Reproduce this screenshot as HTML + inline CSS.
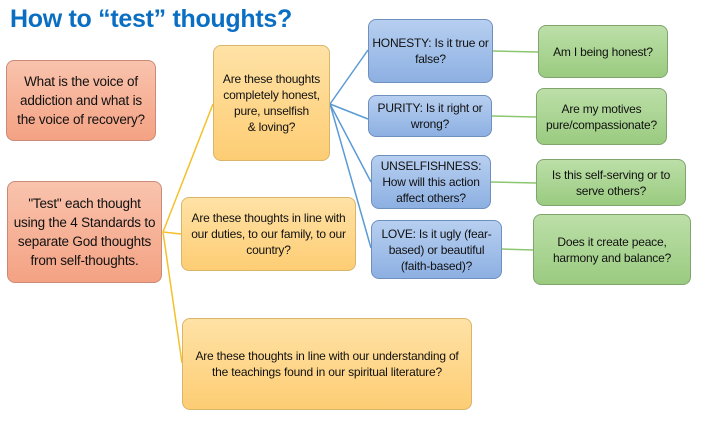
<!DOCTYPE html>
<html><head><meta charset="utf-8"><style>
body{margin:0;width:708px;height:440px;background:#fff;position:relative;overflow:hidden;font-family:"Liberation Sans",sans-serif}
.t{position:absolute;left:10px;top:5px;font-size:25px;font-weight:bold;color:#0a6fc2;letter-spacing:-0.3px}
.b{position:absolute;box-sizing:border-box;border-radius:8px;display:flex;align-items:center;justify-content:center;text-align:center;font-size:12px;line-height:16px;color:#111;padding:2px 3px;letter-spacing:-0.2px}
.r{background:linear-gradient(#f9c3ad,#f4a283);border:1px solid #c98b78;font-size:13.5px;line-height:19px}
.y{background:linear-gradient(#ffe2a6,#fdcd74);border:1px solid #d9b56a}
.u{background:linear-gradient(#b7cff0,#8db0e2);border:1px solid #6f8fbf}
.g{background:linear-gradient(#bcdfa8,#9acb80);border:1px solid #7fa56d}
svg{position:absolute;left:0;top:0}
</style></head><body>
<div class="t">How to “test” thoughts?</div>
<svg width="708" height="440">
<g stroke="#f5c02a" stroke-width="1.5" fill="none">
<line x1="163" y1="232" x2="213" y2="104"/><line x1="163" y1="232" x2="181" y2="234"/><line x1="163" y1="232" x2="182" y2="363"/>
</g>
<g stroke="#5b9bd5" stroke-width="1.5" fill="none">
<line x1="330" y1="104" x2="368" y2="50"/><line x1="330" y1="104" x2="368" y2="119"/><line x1="330" y1="104" x2="371" y2="182"/><line x1="330" y1="104" x2="371" y2="248"/>
</g>
<g stroke="#8cc66e" stroke-width="1.5">
<line x1="493" y1="51" x2="538" y2="52"/><line x1="492" y1="116" x2="536" y2="117"/><line x1="491" y1="182" x2="536" y2="183"/><line x1="502" y1="249" x2="533" y2="250"/>
</g>
</svg>
<div class="b r" style="left:6px;top:60px;width:150px;height:81px">What is the voice of addiction and what is the voice of recovery?</div>
<div class="b r" style="left:7px;top:181px;width:155px;height:102px">"Test" each thought using the 4 Standards to separate God thoughts from self-thoughts.</div>
<div class="b y" style="left:213px;top:45px;width:117px;height:116px">Are these thoughts completely honest, pure, unselfish<br>&amp; loving?</div>
<div class="b y" style="left:181px;top:197px;width:175px;height:74px">Are these thoughts in line with our duties, to our family, to our country?</div>
<div class="b y" style="left:182px;top:318px;width:290px;height:92px">Are these thoughts in line with our understanding of the teachings found in our spiritual literature?</div>
<div class="b u" style="left:368px;top:19px;width:125px;height:64px">HONESTY: Is it true or false?</div>
<div class="b u" style="left:368px;top:95px;width:124px;height:42px">PURITY: Is it right or wrong?</div>
<div class="b u" style="left:371px;top:155px;width:120px;height:54px">UNSELFISHNESS: How will this action affect others?</div>
<div class="b u" style="left:371px;top:220px;width:131px;height:59px">LOVE: Is it ugly (fear-based) or beautiful (faith-based)?</div>
<div class="b g" style="left:538px;top:25px;width:130px;height:53px">Am I being honest?</div>
<div class="b g" style="left:536px;top:88px;width:131px;height:57px">Are my motives pure/compassionate?</div>
<div class="b g" style="left:536px;top:159px;width:150px;height:47px">Is this self-serving or to serve others?</div>
<div class="b g" style="left:533px;top:214px;width:158px;height:71px">Does it create peace, harmony and balance?</div>
</body></html>
